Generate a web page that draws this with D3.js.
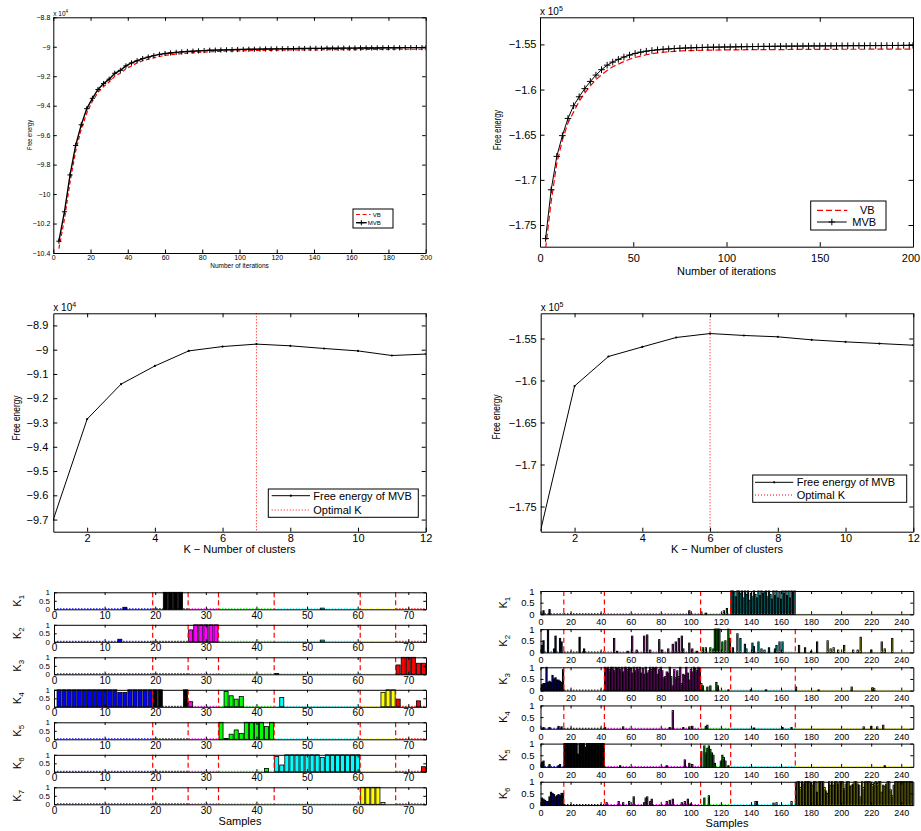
<!DOCTYPE html>
<html>
<head>
<meta charset="utf-8">
<script src="https://cdn.jsdelivr.net/npm/d3@7"></script>
<style>
  body { margin: 0; background: #fff; }
  svg { display: block; }
</style>
</head>
<body>
<script>
// ---------- free energy vs iterations (every 3rd iteration + last) ----------
var iters = d3.range(3, 199, 3).concat([200]);

var tlMVB = [-10.32,-10.12,-9.87,-9.67,-9.53,-9.42,-9.35,-9.29,-9.25,-9.22,
  -9.18,-9.16,-9.13,-9.11,-9.095,-9.08,-9.07,-9.06,-9.052,-9.046,
  -9.042,-9.038,-9.035,-9.032,-9.030,-9.028,-9.026,-9.024,-9.023,-9.022,
  -9.021,-9.020,-9.019,-9.018,-9.017,-9.017,-9.016,-9.015,-9.015,-9.014,
  -9.014,-9.013,-9.013,-9.012,-9.012,-9.011,-9.011,-9.011,-9.010,-9.010,
  -9.010,-9.009,-9.009,-9.009,-9.008,-9.008,-9.008,-9.008,-9.007,-9.007,
  -9.007,-9.007,-9.006,-9.006,-9.006,-9.006,-9.006];
var tlVB = [-10.37,-10.17,-9.92,-9.71,-9.56,-9.45,-9.37,-9.31,-9.27,-9.24,
  -9.20,-9.18,-9.15,-9.13,-9.11,-9.095,-9.085,-9.075,-9.066,-9.059,
  -9.054,-9.050,-9.046,-9.043,-9.040,-9.038,-9.036,-9.034,-9.032,-9.031,
  -9.030,-9.029,-9.028,-9.027,-9.026,-9.025,-9.025,-9.024,-9.024,-9.023,
  -9.023,-9.022,-9.022,-9.022,-9.021,-9.021,-9.021,-9.020,-9.020,-9.020,
  -9.020,-9.019,-9.019,-9.019,-9.019,-9.018,-9.018,-9.018,-9.018,-9.018,
  -9.017,-9.017,-9.017,-9.017,-9.017,-9.017,-9.017];

var trMVB = [-1.765,-1.711,-1.674,-1.651,-1.632,-1.618,-1.608,-1.599,-1.591,-1.584,
  -1.578,-1.573,-1.5696,-1.5666,-1.564,-1.5618,-1.560,-1.5586,-1.5575,-1.5567,
  -1.556,-1.5554,-1.555,-1.5546,-1.5543,-1.554,-1.5538,-1.5536,-1.5534,-1.5532,
  -1.5531,-1.553,-1.5529,-1.5528,-1.5527,-1.5526,-1.5525,-1.5524,-1.5523,-1.5522,
  -1.5522,-1.5521,-1.552,-1.552,-1.5519,-1.5519,-1.5518,-1.5518,-1.5517,-1.5517,
  -1.5516,-1.5516,-1.5515,-1.5515,-1.5515,-1.5514,-1.5514,-1.5514,-1.5513,-1.5513,
  -1.5513,-1.5512,-1.5512,-1.5512,-1.5511,-1.5511,-1.5511];
var trVB = [-1.776,-1.724,-1.682,-1.656,-1.637,-1.625,-1.613,-1.604,-1.596,-1.589,
  -1.5836,-1.579,-1.5747,-1.5718,-1.569,-1.5665,-1.5645,-1.563,-1.5615,-1.5603,
  -1.5594,-1.5587,-1.5581,-1.5577,-1.5573,-1.557,-1.5568,-1.5566,-1.5565,-1.5564,
  -1.5563,-1.5562,-1.5561,-1.5561,-1.556,-1.556,-1.5559,-1.5559,-1.5558,-1.5558,
  -1.5558,-1.5557,-1.5557,-1.5557,-1.5556,-1.5556,-1.5556,-1.5556,-1.5555,-1.5555,
  -1.5555,-1.5555,-1.5555,-1.5554,-1.5554,-1.5554,-1.5554,-1.5554,-1.5553,-1.5553,
  -1.5553,-1.5553,-1.5553,-1.5553,-1.5552,-1.5552,-1.5552];

var tlXTicks = [0,20,40,60,80,100,120,140,160,180,200];
var tlYTicks = [-10.4,-10.2,-10,-9.8,-9.6,-9.4,-9.2,-9,-8.8];
var trXTicks = [0,50,100,150,200];
var trYTicks = [-1.75,-1.7,-1.65,-1.6,-1.55];

// ---------- free energy vs K ----------
var kValues = [1,2,3,4,5,6,7,8,9,10,11,12];
var mlFree = [-9.70,-9.286,-9.142,-9.067,-9.005,-8.987,-8.977,-8.984,-8.995,-9.005,-9.024,-9.018];
var mrFree = [-1.778,-1.6066,-1.5714,-1.560,-1.5488,-1.5441,-1.5464,-1.548,-1.5516,-1.554,-1.556,-1.558];
var mlOptK = 7, mrOptK = 6;
var kTicks = [2,4,6,8,10,12];
var mlYTicks = [-9.7,-9.6,-9.5,-9.4,-9.3,-9.2,-9.1,-9,-8.9];
var mrYTicks = [-1.75,-1.7,-1.65,-1.6,-1.55];

// ---------- responsibilities, left data set (73 samples, 7 clusters) ----------
var blClassSizes = [19, 7, 6, 11, 17, 7, 6];
var blColors = ['#0000ff','#000000','#ff00ff','#00ff00','#00ffff','#ffff00','#ff0000'];
var blBounds = [19.5, 26.5, 32.5, 43.5, 60.5, 67.5];
var blK1 = [[14,0.12],[22,1],[23,1],[24,1],[25,1],[53,0.07]];
var blK2 = [[13,0.15],[27,0.7],[28,1],[29,1],[30,1],[31,1],[32,1],[53,0.1]];
var blK3 = [[44,0.05],[68,0.55],[69,1],[70,1],[71,1],[72,0.65],[73,0.65]];
var blK4 = [[1,1],[2,1],[3,1],[4,1],[5,1],[6,1],[7,1],[8,1],[9,1],[10,1],[11,1],[12,1],
  [13,0.85],[14,0.85],[15,1],[16,1],[17,1],[18,1],[19,1],[20,1],[21,1],[26,1],[27,0.3],
  [34,0.9],[35,0.65],[36,0.45],[37,0.6],[45,0.55],[65,0.85],[66,1],[67,1],[68,0.45],[72,0.35]];
var blK5 = [[33,1],[34,0.05],[35,0.3],[36,0.55],[37,0.35],[38,1],[39,1],[40,1],[41,1],[42,0.75],[43,1]];
var blK6 = [[42,0.2],[44,0.9],[45,0.4],[46,1],[47,1],[48,1],[49,1],[50,1],[51,1],[52,1],[53,0.85],
  [54,1],[55,1],[56,1],[57,1],[58,1],[59,1],[60,1],[73,0.3]];
var blK7 = [[61,1],[62,1],[63,1],[64,1],[65,0.1]];
var blRows = [blK1, blK2, blK3, blK4, blK5, blK6, blK7];

// ---------- responsibilities, right data set (247 samples, 6 clusters) ----------
var brClassSizes = [15, 27, 64, 20, 43, 78];
var brColors = ['#0000ff','#000000','#ff00ff','#00ff00','#00ffff','#ffff00'];
var brBounds = [15.5, 42.5, 106.5, 126.5, 169.5];

var brK1Pts = [[2,0.15],[6,0.2],[99,0.15],[107,0.1],[110,0.05],[122,0.15],[124,0.25]];
var brK1Block = [1,1,0.95,0.75,1,1,0.9,1,0.7,1,0.85,1,0.6,0.9,0.75,1,0.85,0.7,1,0.8,
  1,0.9,0.95,1,0.75,1,0.85,0.65,1,0.8,1,0.7,0.95,0.65,1,0.9,1,0.8,1,0.7,1,0.95,1]; // 127-169

var brK2Pts = [[1,0.3],[2,0.5],[5,0.95],[9,0.15],[10,0.7],[13,0.6],[14,0.45],[26,0.65],[29,0.15],
  [49,0.6],[51,0.05],[58,0.05],[61,0.7],[64,0.1],[69,0.7],[71,0.75],[73,0.1],[79,0.55],[81,0.1],
  [85,0.15],[88,0.35],[90,0.45],[92,0.6],[94,0.7],[95,0.15],[99,0.4],[101,0.15],[104,0.05],
  [108,0.2],[110,0.2],[113,0.2],[115,0.15],[116,1],[117,1],[118,1],[119,1],[121,0.45],[123,0.5],
  [125,1],[126,0.6],[128,0.2],[131,0.8],[133,0.6],[136,0.35],[137,0.15],[141,0.4],[142,0.25],
  [145,0.45],[147,0.15],[149,0.1],[152,0.2],[156,0.15],[157,0.3],[159,0.45],[161,0.45],
  [172,0.3],[176,0.2],[180,0.05],[184,0.45],[191,0.5],[193,0.15],[195,0.2],[198,0.1],[202,0.3],
  [208,0.1],[211,0.1],[213,0.65],[220,0.1],[227,0.45],[229,0.15],[234,0.6]];

var brK3Blue = [0.25,0.3,0.3,1.0,0.35,0.4,0.35,0.65,0.5,0.55,0.45,0.45,0.4,0.35,0.9]; // 1-15
var brK3Block = [1,0.95,1,0.9,1,1,0.85,1,0.95,1,
  0.9,1,0.8,1,1,0.9,1,0.95,0.75,1,
  0.85,1,0.9,1,0.75,0.95,0.7,1,0.75,0.85,
  1,0.9,1,0.95,1,0.7,0.9,1,0.85,0.55,
  0.6,0.8,0.75,1,0.6,0.2,0.9,0.55,0.85,0.6,
  1,0.3,0.7,0.65,1,0.75,0.45,0.9,0.8,1,
  0.95,0.85,1,0.95]; // 43-106
var brK3Pts = [[107,0.3],[108,0.2],[111,0.15],[113,0.2],[117,0.35],[118,0.2],[125,0.03],[140,0.03],
  [150,0.03],[170,0.15],[185,0.03],[207,0.15],[221,0.12],[222,0.08]];

var brK4Pts = [[2,0.05],[6,0.05],[12,0.1],[14,0.08],[43,0.05],[55,0.08],[86,0.05],[88,0.78],[95,0.05],
  [99,0.08],[101,0.1],[110,0.1],[111,0.15],[142,0.03],[161,0.05],[167,0.05],[215,0.08],[220,0.1],
  [224,0.08],[228,0.15]];

var brK5Pts = [[1,0.2],[2,0.25],[6,0.1],[12,0.05],[13,0.1],[53,0.05],[84,0.05],[96,0.3],[99,0.15],
  [101,0.1],[107,0.65],[109,0.9],[110,0.6],[111,0.8],[112,0.9],[113,0.75],[114,0.6],[115,0.5],
  [116,0.15],[120,0.25],[121,0.5],[122,0.4],[123,0.25],[125,0.05],[229,0.05]];
var brK5Block = [1,1,1,1,1,1,1,1,1,0.55,1,1,1,1,0.85,1,1,1,1,1,1,1,1,1,1,1,1]; // 16-42

var brK6Blue = [0.3,0.25,0.2,0.15,0.15,0.35,0.55,0.5,0.45,0.35,0.4,0.45,0.4,0.5,0.5]; // 1-15
var brK6Pts = [[44,0.1],[52,0.15],[55,0.1],[59,0.15],[62,0.35],[69,0.1],[70,0.3],[71,0.35],[73,0.15],
  [74,0.25],[84,0.15],[86,0.2],[88,0.25],[94,0.1],[96,0.15],[98,0.25],[100,0.05],[109,0.3],
  [112,0.4],[143,0.15],[144,0.15],[155,0.08],[157,0.1],[167,0.15]];
var brK6Block = [0.95,1,1,0.75,1,0.9,1,1,1,1,
  0.95,0.85,1,1,0.55,1,1,1,1,0.75,
  0.6,0.5,1,0.85,1,0.85,1,1,0.9,1,
  1,1,0.7,0.9,1,1,0.8,0.85,0.9,1,
  1,0.9,0.85,0.35,1,0.75,1,1,1,1,
  0.9,0.88,0.92,1,0.92,1,1,0.55,0.85,0.8,
  0.9,1,1,0.65,0.4,0.85,1,1,1,1,
  1,1,1,1,1,1,1,1]; // 170-247

var FONT = '"Liberation Sans", Arial, Helvetica, sans-serif';
var svg = d3.select('body').append('svg').attr('width', 921).attr('height', 831)
  .style('font-family', FONT);
var clipN = 0;

function fmt(v) {
  var a = Math.abs(v) < 1e-9 ? 0 : v;
  return (a < 0 ? '\u2212' : '') + String(+Math.abs(a).toFixed(3));
}

// box with inward ticks on all four sides (matlab style)
function frame(g, x, y, xt, yt, o) {
  var ya = y.range()[0], yb = y.range()[1], xa = x.range()[0], xb = x.range()[1];
  var axes = [
    g.append('g').attr('transform', 'translate(0,' + ya + ')')
      .call(d3.axisBottom(x).tickValues(xt).tickFormat(fmt).tickSizeInner(-o.tl).tickSizeOuter(0).tickPadding(o.xpad)),
    g.append('g').attr('transform', 'translate(0,' + yb + ')')
      .call(d3.axisTop(x).tickValues(xt).tickFormat('').tickSizeInner(-o.tl).tickSizeOuter(0)),
    g.append('g').attr('transform', 'translate(' + xa + ',0)')
      .call(d3.axisLeft(y).tickValues(yt).tickFormat(fmt).tickSizeInner(-o.tl).tickSizeOuter(0).tickPadding(o.ypad)),
    g.append('g').attr('transform', 'translate(' + xb + ',0)')
      .call(d3.axisRight(y).tickValues(yt).tickFormat('').tickSizeInner(-o.tl).tickSizeOuter(0))
  ];
  axes.forEach(function (a) {
    a.attr('font-family', FONT).attr('font-size', o.fs);
    a.selectAll('path, line').attr('stroke', '#000').attr('stroke-width', o.lw || 1);
    a.selectAll('text').attr('fill', '#000');
  });
  axes[0].selectAll('text').attr('font-size', o.xfs || o.fs);
  // keep a label that sits on the page edge inside the picture
  if (o.lastShift) {
    axes[0].selectAll('.tick').filter(function (d) { return d === xt[xt.length - 1]; })
      .select('text').attr('dx', o.lastShift);
  }
}

function panel(o) {
  var g = svg.append('g');
  var x = d3.scaleLinear().domain(o.xd).range([o.x0, o.x1]);
  var y = d3.scaleLinear().domain(o.yd).range([o.y1, o.y0]);
  var id = 'clip' + (clipN++);
  g.append('clipPath').attr('id', id).append('rect')
    .attr('x', o.x0).attr('y', o.y0).attr('width', o.x1 - o.x0).attr('height', o.y1 - o.y0);
  var plot = g.append('g').attr('clip-path', 'url(#' + id + ')');
  return { g: g, x: x, y: y, plot: plot };
}

function expLabel(x, y, e, fs) {
  var t = svg.append('text').attr('x', x).attr('y', y).attr('font-size', fs);
  t.append('tspan').text('x 10');
  t.append('tspan').attr('dy', -fs * 0.45).attr('font-size', fs * 0.7).text(e);
}

function yLabel(cx, cy, txt, fs, len) {
  svg.append('text').attr('transform', 'translate(' + cx + ',' + cy + ') rotate(-90)')
    .attr('text-anchor', 'middle').attr('dy', '0.35em').attr('font-size', fs)
    .attr('textLength', len).attr('lengthAdjust', 'spacingAndGlyphs').text(txt);
}

function xLabel(cx, by, txt, fs) {
  svg.append('text').attr('x', cx).attr('y', by).attr('text-anchor', 'middle')
    .attr('font-size', fs).text(txt);
}

function plusPath(px, py, s) {
  return 'M' + (px - s) + ',' + py + 'h' + (2 * s) + 'M' + px + ',' + (py - s) + 'v' + (2 * s);
}

// ===== top row: convergence =====
function convergence(o) {
  var p = panel(o);
  var line = d3.line().x(function (d, i) { return p.x(iters[i]); }).y(function (d) { return p.y(d); });
  p.plot.append('path').datum(o.vb).attr('d', line).attr('fill', 'none')
    .attr('stroke', '#ff0000').attr('stroke-width', 1.2).attr('stroke-dasharray', o.dash);
  p.plot.append('path').datum(o.mvb).attr('d', line).attr('fill', 'none')
    .attr('stroke', '#000').attr('stroke-width', o.lw);
  p.plot.append('path').attr('fill', 'none').attr('stroke', '#000').attr('stroke-width', 1)
    .attr('d', o.mvb.map(function (d, i) { return plusPath(p.x(iters[i]), p.y(d), o.ms); }).join(''));
  frame(p.g, p.x, p.y, o.xt, o.yt, o.ax);
  // legend
  var L = o.leg;
  svg.append('rect').attr('x', L.x).attr('y', L.y).attr('width', L.w).attr('height', L.h)
    .attr('fill', '#fff').attr('stroke', '#000').attr('stroke-width', 1);
  svg.append('line').attr('x1', L.l0).attr('x2', L.l1).attr('y1', L.r1).attr('y2', L.r1)
    .attr('stroke', '#ff0000').attr('stroke-width', 1.2).attr('stroke-dasharray', o.dash);
  svg.append('line').attr('x1', L.l0).attr('x2', L.l2).attr('y1', L.r2).attr('y2', L.r2)
    .attr('stroke', '#000').attr('stroke-width', o.lw);
  svg.append('path').attr('d', plusPath((L.l0 + L.l2) / 2, L.r2, o.ms)).attr('stroke', '#000').attr('stroke-width', 1);
  svg.append('text').attr('x', L.t1).attr('y', L.r1).attr('dy', '0.35em').attr('font-size', L.fs).text('VB');
  svg.append('text').attr('x', L.t2).attr('y', L.r2).attr('dy', '0.35em').attr('font-size', L.fs).text('MVB');
}

convergence({
  x0: 53.3, x1: 425.7, y0: 17.3, y1: 253, xd: [0, 200], yd: [-10.4, -8.8],
  xt: tlXTicks, yt: tlYTicks, vb: tlVB, mvb: tlMVB, dash: '4,2.5', lw: 1.4, ms: 2.6,
  ax: { tl: 3.5, fs: 7, xpad: 2, ypad: 3 },
  leg: { x: 353, y: 209, w: 40, h: 19, l0: 356, l1: 370.5, l2: 366.7, r1: 214.5, r2: 222.7,
         t1: 372.7, t2: 367.7, fs: 6 }
});
expLabel(53.3, 16, '4', 6.5);
xLabel(239.5, 268, 'Number of iterations', 6.5);
yLabel(29.7, 135, 'Free energy', 6.5, 30);

convergence({
  x0: 540, x1: 913, y0: 17.3, y1: 246.7, xd: [0, 200], yd: [-1.774, -1.52],
  xt: trXTicks, yt: trYTicks, vb: trVB, mvb: trMVB, dash: '6,3', lw: 1, ms: 3.3,
  ax: { tl: 4.5, fs: 11, xpad: 8, ypad: 3.5, lastShift: -2.5 },
  leg: { x: 810.7, y: 201, w: 75.3, h: 29, l0: 817, l1: 847.3, l2: 846.7, r1: 210.3, r2: 222,
         t1: 860, t2: 852.3, fs: 11 }
});
expLabel(540, 15, '5', 10);
xLabel(726.5, 275, 'Number of iterations', 11);
yLabel(497, 130, 'Free energy', 10.5, 40);

// ===== middle row: free energy vs K =====
function modelSel(o) {
  var p = panel(o);
  var line = d3.line().x(function (d, i) { return p.x(kValues[i]); }).y(function (d) { return p.y(d); });
  p.plot.append('line').attr('x1', p.x(o.opt)).attr('x2', p.x(o.opt)).attr('y1', o.y0).attr('y2', o.y1)
    .attr('stroke', '#ff0000').attr('stroke-width', 1).attr('stroke-dasharray', '1,2');
  p.plot.append('path').datum(o.vals).attr('d', line).attr('fill', 'none')
    .attr('stroke', '#000').attr('stroke-width', 1);
  p.plot.selectAll('circle').data(o.vals).join('circle')
    .attr('cx', function (d, i) { return p.x(kValues[i]); }).attr('cy', function (d) { return p.y(d); })
    .attr('r', 1.1).attr('fill', '#000');
  frame(p.g, p.x, p.y, kTicks, o.yt, o.ax);
  var L = o.leg;
  svg.append('rect').attr('x', L.x).attr('y', L.y).attr('width', L.w).attr('height', L.h)
    .attr('fill', '#fff').attr('stroke', '#000').attr('stroke-width', 1);
  svg.append('line').attr('x1', L.l0).attr('x2', L.l1).attr('y1', L.r1).attr('y2', L.r1)
    .attr('stroke', '#000').attr('stroke-width', 1);
  svg.append('circle').attr('cx', (L.l0 + L.l1) / 2).attr('cy', L.r1).attr('r', 1.1).attr('fill', '#000');
  svg.append('line').attr('x1', L.l0).attr('x2', L.l1).attr('y1', L.r2).attr('y2', L.r2)
    .attr('stroke', '#ff0000').attr('stroke-width', 1).attr('stroke-dasharray', '1,2');
  svg.append('text').attr('x', L.t).attr('y', L.r1).attr('dy', '0.35em').attr('font-size', 11).text('Free energy of MVB');
  svg.append('text').attr('x', L.t).attr('y', L.r2).attr('dy', '0.35em').attr('font-size', 11).text('Optimal K');
}

modelSel({
  x0: 53.3, x1: 425.7, y0: 313.3, y1: 531.7, xd: [1, 12], yd: [-9.75, -8.85],
  vals: mlFree, opt: mlOptK, yt: mlYTicks,
  ax: { tl: 4, fs: 11, xpad: 2.5, ypad: 5 },
  leg: { x: 268.3, y: 489, w: 150, h: 28.3, l0: 271.7, l1: 310, r1: 495.7, r2: 510, t: 313.3 }
});
expLabel(53.3, 311, '4', 10);
xLabel(239.5, 553, 'K \u2212 Number of clusters', 11);
yLabel(16, 418, 'Free energy', 10.5, 45);

modelSel({
  x0: 540.7, x1: 913.3, y0: 313.3, y1: 531.7, xd: [1, 12], yd: [-1.78, -1.52],
  vals: mrFree, opt: mrOptK, yt: mrYTicks,
  ax: { tl: 4, fs: 11, xpad: 2.5, ypad: 4 },
  leg: { x: 752.7, y: 475, w: 154, h: 27.3, l0: 755, l1: 793.3, r1: 482.3, r2: 495, t: 796.7 }
});
expLabel(540.7, 311, '5', 10);
xLabel(727, 553, 'K \u2212 Number of clusters', 11);
yLabel(496.7, 417, 'Free energy', 10.5, 45);

// ===== bottom row: responsibilities =====
function assemble(n, pts, blocks) {
  var v = new Array(n).fill(0);
  pts.forEach(function (p) { v[p[0] - 1] = p[1]; });
  blocks.forEach(function (b) { b[1].forEach(function (val, j) { v[b[0] - 1 + j] = val; }); });
  return v;
}

function classOf(sizes) {
  var c = [];
  sizes.forEach(function (s, k) { for (var i = 0; i < s; i++) c.push(k); });
  return c;
}

function barPanel(o) {
  var g = svg.append('g');
  var x = d3.scaleLinear().domain(o.xd).range([o.x0, o.x1]);
  var y = d3.scaleLinear().domain([0, 1]).range([o.top + o.h, o.top]);
  var bw = x(0.8) - x(0);
  // coloured baseline of zero-height bars
  var start = 1;
  o.sizes.forEach(function (s, k) {
    g.append('line').attr('x1', x(start - 0.4)).attr('x2', x(start + s - 0.6))
      .attr('y1', y(0) - 0.5).attr('y2', y(0) - 0.5)
      .attr('stroke', o.colors[k]).attr('stroke-width', 1).attr('stroke-dasharray', '1.5,1.5');
    start += s;
  });
  var data = o.values.map(function (v, i) { return { s: i + 1, v: v, c: o.cls[i] }; })
    .filter(function (d) { return d.v > 0; });
  g.selectAll('rect.bar').data(data).join('rect').attr('class', 'bar')
    .attr('x', function (d) { return x(d.s) - bw / 2; }).attr('width', bw)
    .attr('y', function (d) { return y(d.v); })
    .attr('height', function (d) { return y(0) - y(d.v); })
    .attr('fill', function (d) { return o.colors[d.c]; })
    .attr('stroke', '#000').attr('stroke-width', o.sw);
  o.bounds.forEach(function (b) {
    g.append('line').attr('x1', x(b)).attr('x2', x(b)).attr('y1', y(1)).attr('y2', y(0))
      .attr('stroke', '#ff0000').attr('stroke-width', 1.2).attr('stroke-dasharray', o.dash);
  });
  frame(g, x, y, o.xt, [0, 0.5, 1], o.ax);
  var t = svg.append('text')
    .attr('transform', 'translate(' + o.kx + ',' + (o.top + o.h / 2) + ') rotate(-90)')
    .attr('text-anchor', 'middle').attr('dy', '0.3em').attr('font-size', 11);
  t.append('tspan').text('K');
  t.append('tspan').attr('dy', 3).attr('font-size', 8).text(o.k);
}

var blCls = classOf(blClassSizes);
blRows.forEach(function (row, i) {
  barPanel({
    x0: 54, x1: 426, xd: [0, 73.5], top: 592.3 + i * 32.5, h: 17,
    values: assemble(73, row, []), cls: blCls, sizes: blClassSizes, colors: blColors,
    bounds: blBounds, xt: [0, 10, 20, 30, 40, 50, 60, 70], sw: 0.8, dash: '5,3',
    ax: { tl: 2.7, fs: 8, xfs: 10, xpad: 2.5, ypad: 4 }, kx: 17.5, k: String(i + 1)
  });
});
xLabel(240, 825, 'Samples', 11);

var brCls = classOf(brClassSizes);
var brRows = [
  assemble(247, brK1Pts, [[127, brK1Block]]),
  assemble(247, brK2Pts, []),
  assemble(247, brK3Pts, [[1, brK3Blue], [43, brK3Block]]),
  assemble(247, brK4Pts, []),
  assemble(247, brK5Pts, [[16, brK5Block]]),
  assemble(247, brK6Pts, [[1, brK6Blue], [170, brK6Block]])
];
brRows.forEach(function (vals, i) {
  barPanel({
    x0: 540.5, x1: 913.3, xd: [0, 248], top: 591 + i * 38.15, h: 23.3,
    values: vals, cls: brCls, sizes: brClassSizes, colors: brColors,
    bounds: brBounds, xt: [0, 20, 40, 60, 80, 100, 120, 140, 160, 180, 200, 220, 240], sw: 1.0,
    dash: '5,3.5', ax: { tl: 3, fs: 9.5, xfs: 9, xpad: 4.5, ypad: 6 }, kx: 504, k: String(i + 1)
  });
});
xLabel(727, 826.5, 'Samples', 11);
</script>
</body>
</html>
